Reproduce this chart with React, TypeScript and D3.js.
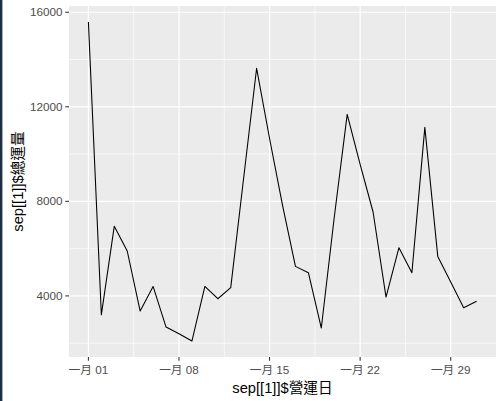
import React from "react";
import * as d3 from "d3";

const days: number[] = [1,2,3,4,5,6,7,8,9,10,11,12,13,14,15,16,17,18,19,20,21,22,23,24,25,26,27,28,29,30,31];
const totals: number[] = [15590,3200,6950,5900,3360,4400,2680,2400,2090,4400,3880,4350,9000,13630,10660,7840,5250,4980,2640,7330,11680,9560,7550,3950,6040,4980,11130,5670,4590,3500,3770];
const xTickDays: number[] = [1, 8, 15, 22, 29];
const xTickLabels: string[] = ["一月 01", "一月 08", "一月 15", "一月 22", "一月 29"];
const xMinorDays: number[] = [4.5, 11.5, 18.5, 25.5];
const yTicks: number[] = [4000, 8000, 12000, 16000];
const yMinor: number[] = [2000, 6000, 10000, 14000];
const xTitle = "sep[[1]]$營運日";
const yTitle = "sep[[1]]$總運量";

const W = 502, H = 401;
const left = 69, right = 496, top = 6, bottom = 357;
const font = "'Liberation Sans', Arial, 'Noto Sans CJK TC', sans-serif";

const dayToDate = (d: number) => new Date(Date.UTC(2020, 0, 1) + (d - 1) * 86400000);

export default function App() {
  const dates = days.map(dayToDate);
  const dMin = dates[0].getTime(), dMax = dates[dates.length - 1].getTime();
  const dPad = (dMax - dMin) * 0.05;
  const x = d3.scaleUtc().domain([new Date(dMin - dPad), new Date(dMax + dPad)]).range([left, right]);
  const yMinV = d3.min(totals)!, yMaxV = d3.max(totals)!;
  const yPad = (yMaxV - yMinV) * 0.05;
  const y = d3.scaleLinear().domain([yMinV - yPad, yMaxV + yPad]).range([bottom, top]);

  const line = d3.line<number>().x((_, i) => x(dates[i])).y((v) => y(v));
  const path = line(totals) || "";

  return (
    <svg width={W} height={H} style={{ position: "absolute", left: 0, top: 0, background: "#fff" }}>
      <rect x={0} y={0} width={W} height={H} fill="#fff" />
      <rect x={0} y={0} width={2.4} height={H} fill="#1d2f42" />
      <rect x={left} y={top} width={right - left} height={bottom - top} fill="#EBEBEB" />
      {yMinor.map((v) => (
        <line key={"ym" + v} x1={left} x2={right} y1={y(v)} y2={y(v)} stroke="#fff" strokeWidth={0.6} />
      ))}
      {xMinorDays.map((d) => (
        <line key={"xm" + d} x1={x(dayToDate(d))} x2={x(dayToDate(d))} y1={top} y2={bottom} stroke="#fff" strokeWidth={0.6} />
      ))}
      {yTicks.map((v) => (
        <line key={"yM" + v} x1={left} x2={right} y1={y(v)} y2={y(v)} stroke="#fff" strokeWidth={1.2} />
      ))}
      {xTickDays.map((d) => (
        <line key={"xM" + d} x1={x(dayToDate(d))} x2={x(dayToDate(d))} y1={top} y2={bottom} stroke="#fff" strokeWidth={1.2} />
      ))}
      <path d={path} fill="none" stroke="#000" strokeWidth={1.07} strokeLinejoin="round" />
      {yTicks.map((v) => (
        <g key={"yt" + v}>
          <line x1={left - 3.7} x2={left} y1={y(v)} y2={y(v)} stroke="#333" strokeWidth={1.07} />
          <text x={left - 6.5} y={y(v)} dy="0.35em" textAnchor="end" fontFamily={font} fontSize={11.7} fill="#4D4D4D">
            {d3.format("d")(v)}
          </text>
        </g>
      ))}
      {xTickDays.map((d, i) => (
        <g key={"xt" + d}>
          <line x1={x(dayToDate(d))} x2={x(dayToDate(d))} y1={bottom} y2={bottom + 3.7} stroke="#333" strokeWidth={1.07} />
          <text x={x(dayToDate(d))} y={374.3} textAnchor="middle" fontFamily={font} fontSize={11.7} fill="#4D4D4D">
            {xTickLabels[i]}
          </text>
        </g>
      ))}
      <text x={(left + right) / 2} y={393} textAnchor="middle" fontFamily={font} fontSize={14.7} fill="#000">
        {xTitle}
      </text>
      <text transform={`translate(22.5, ${(top + bottom) / 2}) rotate(-90)`} textAnchor="middle" fontFamily={font} fontSize={14.7} fill="#000">
        {yTitle}
      </text>
    </svg>
  );
}
